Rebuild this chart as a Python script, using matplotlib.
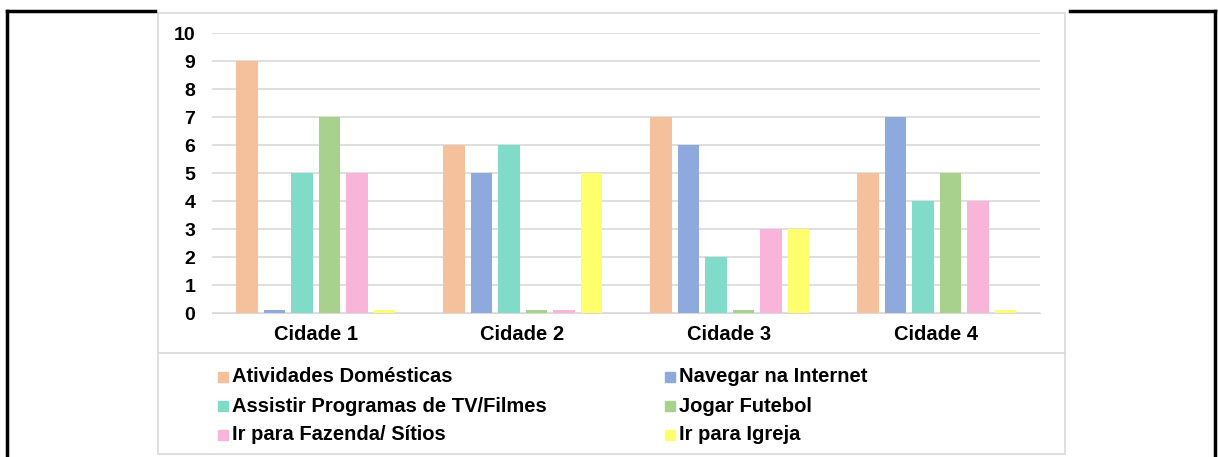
import numpy as np
import matplotlib.pyplot as plt
from matplotlib.patches import Rectangle
from matplotlib.lines import Line2D

plt.rcParams['font.family'] = ['Liberation Sans', 'DejaVu Sans']
plt.rcParams['font.weight'] = 'bold'

cidades = ['Cidade 1', 'Cidade 2', 'Cidade 3', 'Cidade 4']
series = ['Atividades Domésticas', 'Navegar na Internet', 'Assistir Programas de TV/Filmes',
          'Jogar Futebol', 'Ir para Fazenda/ Sítios', 'Ir para Igreja']
cores = ['#F5C19C', '#8EA9DB', '#80DCC8', '#A9D18E', '#F9B5D9', '#FFFF6E']
# zeros were drawn as thin slivers in the original
atividades = [9, 6, 7, 5]
navegar = [0.1, 5, 6, 7]
assistir = [5, 6, 2, 4]
futebol = [7, 0.1, 0.1, 5]
fazenda = [5, 0.1, 3, 4]
igreja = [0.1, 5, 3, 0.1]
valores = [atividades, navegar, assistir, futebol, fazenda, igreja]

W, H = 1218, 457
fig = plt.figure(figsize=(W / 100, H / 100), dpi=100)

def fx(px):
    return px / W

def fy(py):
    return 1 - py / H

# outer black frame
for xs, ys in [([7, 7], [11, 457]), ([7, 155], [11, 11]), ([1070, 1215], [11, 11]), ([1215, 1215], [11, 457])]:
    fig.add_artist(Line2D([fx(x) for x in xs], [fy(y) for y in ys], color='black', lw=2.5))

# chart box + legend separator
fig.add_artist(Rectangle((fx(158), fy(454)), fx(1065) - fx(158), fy(13) - fy(454),
                         fill=False, edgecolor='#d9d9d9', lw=1.2))
fig.add_artist(Line2D([fx(158), fx(1065)], [fy(353), fy(353)], color='#d9d9d9', lw=1.2))

ax = fig.add_axes([fx(212), fy(313), fx(1040) - fx(212), fy(33) - fy(313)])
x = np.arange(len(cidades))
passo = 27.5 / 207
larg = 21.5 / 207
for j, (nome, vals) in enumerate(zip(series, valores)):
    ax.bar(x + (j - 2.5) * passo, vals, width=larg, color=cores[j], label=nome, zorder=3)

ax.set_xlim(-0.5, 3.5)
ax.set_ylim(0, 10)
ax.set_yticks(range(0, 11))
ax.set_xticks(x)
ax.set_xticklabels(cidades, fontsize=14.5, fontweight='bold')
ax.tick_params(axis='y', labelsize=14, length=0, pad=12)
ax.tick_params(axis='x', length=0, pad=9)
ax.grid(axis='y', color='#d9d9d9', lw=1.2, zorder=0)
for s in ax.spines.values():
    s.set_visible(False)
ax.spines['bottom'].set_visible(True)
ax.spines['bottom'].set_color('#d9d9d9')
ax.spines['bottom'].set_zorder(4)

# legend, row by row
col_x = [218, 665]
row_y = [377, 406, 435]
for j, nome in enumerate(series):
    r, c = j // 2, j % 2
    fig.add_artist(Rectangle((fx(col_x[c]), fy(row_y[r] + 5)), fx(10), 10 / H,
                             color=cores[j]))
    fig.text(fx(col_x[c] + 14), fy(row_y[r]), nome, fontsize=14.5, fontweight='bold',
             va='center', ha='left')

fig.savefig('out.png', dpi=100)
